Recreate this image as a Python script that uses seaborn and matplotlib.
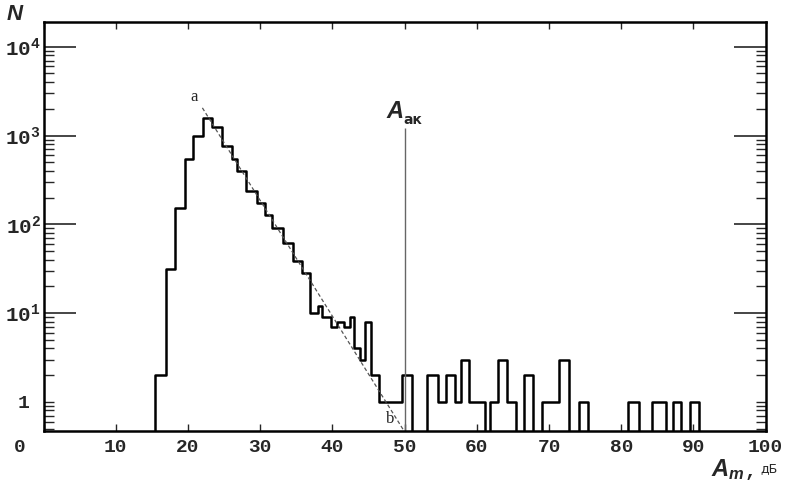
import numpy as np
import pandas as pd
import matplotlib
matplotlib.use("Agg")
import matplotlib.pyplot as plt
import seaborn as sns
from matplotlib.ticker import FixedLocator, LogLocator, FuncFormatter

# histogram: bin edges (dB) and counts per bin
bin_edges = [14.5, 15.5, 17.0, 18.15, 19.55, 20.75, 22.15, 23.4, 24.75, 26.05,
             26.85, 28.1, 29.6, 30.7, 31.7, 33.2, 34.5, 35.8, 36.95, 37.95,
             38.55, 39.8, 40.65, 41.65, 42.45, 43.05, 43.85, 44.5, 45.3, 46.4,
             49.7, 51.05, 53.1, 54.6, 55.7, 56.95, 57.8, 58.9, 61.1, 61.8,
             62.9, 64.2, 65.4, 66.5, 67.8, 69.0, 71.4, 72.7, 74.1, 75.4,
             81.0, 82.4, 84.25, 86.2, 87.2, 88.3, 89.5, 90.75, 92.0]
counts = [0, 2, 31, 154, 550, 1000, 1560, 1260, 770, 540,
          400, 237, 175, 126, 92, 62, 39, 28, 10, 12,
          9, 7, 8, 7, 9, 4, 3, 8, 2, 1,
          2, 0, 2, 1, 2, 1, 3, 1, 0, 1,
          3, 1, 0, 2, 0, 1, 3, 0, 1, 0,
          1, 0, 1, 0, 1, 0, 1, 0]

# dashed exponential fit a-b
fit_x = [22.0, 50.0]
fit_y = [2050, 0.46]

# threshold A_ak
a_ak = 50
a_ak_top = 1230

x_ticks = [0, 10, 20, 30, 40, 50, 60, 70, 80, 90, 100]
y_major = [10, 100, 1000, 10000]
y_major_labels = [r'$10^{1}$', r'$10^{2}$', r'$10^{3}$', r'$10^{4}$']

sns.set_style("ticks")
plt.rcParams['font.family'] = ['Liberation Mono', 'DejaVu Sans']
plt.rcParams['font.weight'] = 'bold'
plt.rcParams['mathtext.fontset'] = 'custom'
plt.rcParams['mathtext.rm'] = 'Liberation Mono:bold'
plt.rcParams['mathtext.it'] = 'Liberation Sans:italic'

df = pd.DataFrame({
    'center': [(bin_edges[i] + bin_edges[i + 1]) / 2 for i in range(len(counts))],
    'count': counts,
})

fig = plt.figure(figsize=(7.88, 4.90), dpi=100)
ax = fig.add_axes([43.5 / 788, 1 - 431 / 490, (765.7 - 43.5) / 788, (431 - 22) / 490])

sns.histplot(data=df, x='center', weights='count', bins=bin_edges,
             element='step', fill=False, color='black', linewidth=1.8, ax=ax)
ax.set_yscale('log')

# dashed fit line and A_ak marker
sns.lineplot(x=fit_x, y=fit_y, color='#555555', linestyle=(0, (3, 2)),
             linewidth=0.9, ax=ax)
ax.vlines(a_ak, 0.3, a_ak_top, color='#666666', linewidth=1.0)

ax.set_xlim(0, 100)
ax.set_ylim(0.47, 1.9e4)
ax.set_xlabel('')
ax.set_ylabel('')

ax.set_xticks(x_ticks)
ax.set_xticklabels([''] + [str(t) for t in x_ticks[1:]], fontsize=14, fontweight='bold')
ax.tick_params(axis='x', direction='in', length=5, width=1, top=True, pad=6)

ax.yaxis.set_major_locator(FixedLocator(y_major))
ax.set_yticklabels(y_major_labels, fontsize=15)
ax.yaxis.set_minor_locator(LogLocator(base=10, subs=np.arange(1, 10), numticks=20))
ax.yaxis.set_minor_formatter(FuncFormatter(lambda v, p: '1' if abs(v - 1) < 1e-9 else ''))
ax.tick_params(axis='y', which='major', direction='in', length=23, width=1.2,
               right=True, pad=2)
ax.tick_params(axis='y', which='minor', direction='in', length=7, width=1,
               right=True, pad=10, labelsize=14)

for s in ax.spines.values():
    s.set_linewidth(1.8)
    s.set_color('black')

# annotations
ax.text(20.8, 2750, 'a', fontsize=12, family='Liberation Serif', fontweight='normal',
        ha='center', va='center')
ax.text(48.0, 0.64, 'b', fontsize=12, family='Liberation Serif', fontweight='normal',
        ha='center', va='center')
ax.text(48.6, 1860, 'A', fontsize=17, family='Liberation Sans', fontweight='bold',
        style='italic', ha='center', va='center')
ax.text(49.8, 1500, 'ак', fontsize=10, family='DejaVu Sans', fontweight='bold',
        ha='left', va='center')

fig.text(20 / 788, 1 - 447 / 490, '0', fontsize=14, fontweight='bold',
         ha='center', va='center')
fig.text(15 / 788, 1 - 14 / 490, 'N', fontsize=16, family='Liberation Sans',
         fontweight='bold', style='italic', ha='center', va='center')
fig.text(728 / 788, 1 - 470 / 490, r'$A_m$', fontsize=17, ha='center', va='center')
fig.text(745 / 788, 1 - 472 / 490, ',', fontsize=14, ha='left', va='center')
fig.text(760 / 788, 1 - 469 / 490, 'дБ', fontsize=9, family='DejaVu Sans',
         fontweight='normal', ha='left', va='center')

fig.savefig('out.png', dpi=100)
